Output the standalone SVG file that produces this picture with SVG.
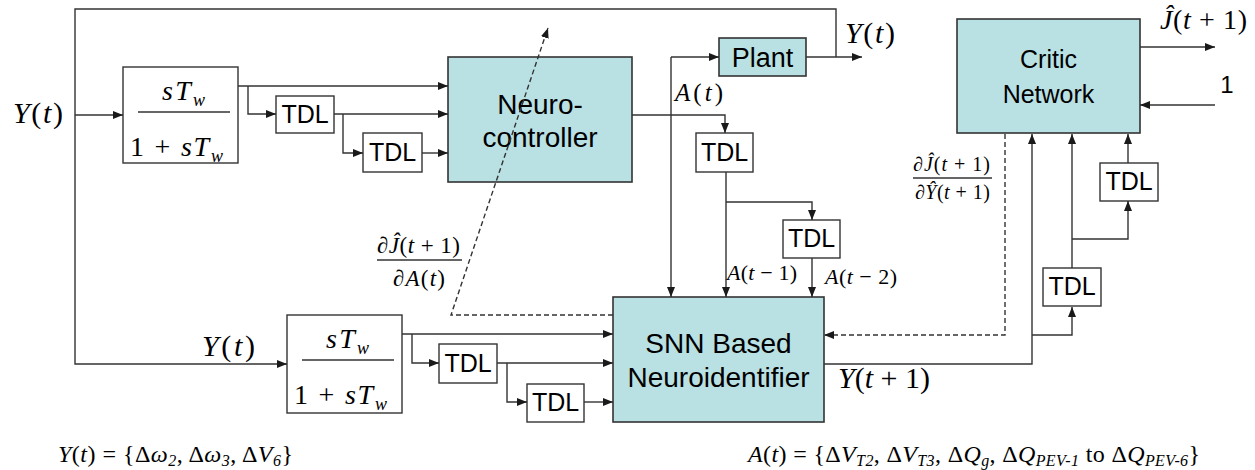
<svg xmlns="http://www.w3.org/2000/svg" width="1255" height="470" viewBox="0 0 1255 470">
<defs>
<marker id="ah" viewBox="0 0 10 8" refX="10" refY="4" markerWidth="10" markerHeight="8" orient="auto" markerUnits="userSpaceOnUse"><path d="M0,0L10,4L0,8z" fill="#1a1a1a"/></marker>
</defs>
<style>
.ln{fill:none;stroke:#333;stroke-width:1.4}
.ar{marker-end:url(#ah)}
.dash{stroke-dasharray:5 3}
.box{fill:#fff;stroke:#333;stroke-width:1.4}
.nn{fill:#b9e0e3;stroke:#333;stroke-width:1.6}
.sans{font-family:"Liberation Sans",Arial,sans-serif;fill:#000}
.tdl{font-size:25px;text-anchor:middle}
.big{font-size:28px;text-anchor:middle}
.m{font-family:"Liberation Serif","Times New Roman",serif;fill:#000}
.i{font-style:italic}
.mid{text-anchor:middle}
</style>
<rect width="1255" height="470" fill="#fff"/>

<g id="filter1">
<rect class="box" x="123" y="67" width="115" height="96"/>
<line class="ln" x1="138" y1="112" x2="230" y2="112"/>
<text class="m i" x="162" y="100" font-size="28" textLength="43">sT<tspan font-size="18" dy="6">w</tspan></text>
<text class="m" x="130" y="156" font-size="28" textLength="93">1 + <tspan class="i">sT</tspan><tspan class="i" font-size="18" dy="6">w</tspan></text>
</g>
<g id="tdl1"><rect class="box" x="276" y="96" width="58" height="37"/><text class="sans tdl" x="305" y="123">TDL</text></g>
<g id="tdl2"><rect class="box" x="363" y="133" width="59" height="39"/><text class="sans tdl" x="392.5" y="161">TDL</text></g>
<g id="neurocontroller">
<rect class="nn" x="448" y="57" width="184" height="125"/>
<text class="sans big" x="540" y="114">Neuro-</text>
<text class="sans big" x="540" y="147">controller</text>
</g>
<g id="plant"><rect class="nn" x="719" y="38" width="87" height="38"/><text class="sans" x="762.5" y="67" font-size="27" text-anchor="middle">Plant</text></g>
<g id="tdlA1"><rect class="box" x="696" y="133" width="57" height="39"/><text class="sans tdl" x="724.5" y="161">TDL</text></g>
<g id="tdlA2"><rect class="box" x="783" y="220" width="57" height="38"/><text class="sans tdl" x="811.5" y="247">TDL</text></g>
<g id="snn">
<rect class="nn" x="613" y="297" width="211" height="125"/>
<text class="sans big" x="718.5" y="353">SNN Based</text>
<text class="sans big" x="718.5" y="387">Neuroidentifier</text>
</g>
<g id="filter2">
<rect class="box" x="287" y="315" width="115" height="98"/>
<line class="ln" x1="302" y1="360" x2="394" y2="360"/>
<text class="m i" x="326" y="348" font-size="28" textLength="43">sT<tspan font-size="18" dy="6">w</tspan></text>
<text class="m" x="294" y="404" font-size="28" textLength="93">1 + <tspan class="i">sT</tspan><tspan class="i" font-size="18" dy="6">w</tspan></text>
</g>
<g id="tdl3"><rect class="box" x="439" y="344" width="58" height="39"/><text class="sans tdl" x="468" y="372">TDL</text></g>
<g id="tdl4"><rect class="box" x="527" y="384" width="57" height="38"/><text class="sans tdl" x="555.5" y="411">TDL</text></g>
<g id="critic">
<rect class="nn" x="957" y="19" width="183" height="114"/>
<text class="sans" x="1048.5" y="68" font-size="25" text-anchor="middle">Critic</text>
<text class="sans" x="1048.5" y="103" font-size="25" text-anchor="middle">Network</text>
</g>
<g id="tdlC1"><rect class="box" x="1043" y="268" width="58" height="38"/><text class="sans tdl" x="1072" y="295">TDL</text></g>
<g id="tdlC2"><rect class="box" x="1100" y="163" width="58" height="38"/><text class="sans tdl" x="1129" y="190">TDL</text></g>

<g id="connectors">
<path class="ln" d="M836,57 V9 H75 V115"/>
<path class="ln ar" d="M75,115 V364 H287"/>
<path class="ln ar" d="M75,115 H123"/>
<path class="ln ar" d="M806,57 H862"/>
<path class="ln ar" d="M238,86 H448"/>
<path class="ln ar" d="M248,86 V114 H276"/>
<path class="ln ar" d="M334,114 H448"/>
<path class="ln ar" d="M343,114 V153 H363"/>
<path class="ln ar" d="M422,153 H448"/>
<path class="ln ar" d="M632,115 H725 V133"/>
<path class="ln ar" d="M671,57 H719"/>
<path class="ln ar" d="M671,57 V297"/>
<path class="ln ar" d="M726,172 V297"/>
<path class="ln ar" d="M726,202 H812 V220"/>
<path class="ln ar" d="M812,258 V297"/>
<path class="ln ar" d="M402,334 H613"/>
<path class="ln ar" d="M412,334 V363 H439"/>
<path class="ln ar" d="M497,363 H613"/>
<path class="ln ar" d="M507,363 V402 H527"/>
<path class="ln ar" d="M584,402 H613"/>
<path class="ln ar dash" d="M1005,134 V335 H824"/>
<path class="ln ar dash" d="M613,315 H451 L548,28"/>
<path class="ln ar" d="M824,364 H1032 V134"/>
<path class="ln ar" d="M1032,335 H1072 V307"/>
<path class="ln ar" d="M1072,268 V134"/>
<path class="ln ar" d="M1072,239 H1128 V201"/>
<path class="ln ar" d="M1128,163 V134"/>
<path class="ln ar" d="M1140,47 H1215"/>
<path class="ln ar" d="M1215,105 H1140"/>
</g>

<g id="labels">
<text class="m" x="13" y="123" font-size="30" textLength="50"><tspan class="i">Y</tspan>(<tspan class="i">t</tspan>)</text>
<text class="m" x="675" y="101" font-size="25" textLength="48"><tspan class="i">A</tspan>(<tspan class="i">t</tspan>)</text>
<text class="m" x="845" y="43" font-size="30" textLength="50"><tspan class="i">Y</tspan>(<tspan class="i">t</tspan>)</text>
<text class="m" x="727" y="280" font-size="22" textLength="70"><tspan class="i">A</tspan>(<tspan class="i">t</tspan> − 1)</text>
<text class="m" x="825" y="284" font-size="22" textLength="72"><tspan class="i">A</tspan>(<tspan class="i">t</tspan> − 2)</text>
<text class="m" x="838" y="388" font-size="30" textLength="92"><tspan class="i">Y</tspan>(<tspan class="i">t</tspan> + 1)</text>
<text class="m" x="202" y="356" font-size="30" textLength="53"><tspan class="i">Y</tspan>(<tspan class="i">t</tspan>)</text>
<text class="m" x="1160" y="29" font-size="28" textLength="87"><tspan class="i">Ĵ</tspan>(<tspan class="i">t</tspan> + 1)</text>
<text class="sans" x="1227" y="93" font-size="24" text-anchor="middle">1</text>
<text class="m" x="377" y="253" font-size="23" textLength="83">∂<tspan class="i">Ĵ</tspan>(<tspan class="i">t</tspan> + 1)</text>
<line class="ln" x1="377" y1="260" x2="462" y2="260"/>
<text class="m" x="393" y="286" font-size="23" textLength="52">∂<tspan class="i">A</tspan>(<tspan class="i">t</tspan>)</text>
<text class="m" x="913" y="171" font-size="20" textLength="77">∂<tspan class="i">Ĵ</tspan>(<tspan class="i">t</tspan> + 1)</text>
<line class="ln" x1="913" y1="178" x2="992" y2="178"/>
<text class="m" x="915" y="199" font-size="20" textLength="75">∂<tspan class="i">Ŷ</tspan>(<tspan class="i">t</tspan> + 1)</text>
<text class="m" x="58" y="462" font-size="24" textLength="235"><tspan class="i">Y</tspan>(<tspan class="i">t</tspan>) = {Δ<tspan class="i">ω</tspan><tspan class="i" font-size="16" dy="4">2</tspan><tspan dy="-4">, Δ</tspan><tspan class="i">ω</tspan><tspan class="i" font-size="16" dy="4">3</tspan><tspan dy="-4">, Δ</tspan><tspan class="i">V</tspan><tspan class="i" font-size="16" dy="4">6</tspan><tspan dy="-4">}</tspan></text>
<text class="m" x="748" y="462" font-size="24" textLength="452"><tspan class="i">A</tspan>(<tspan class="i">t</tspan>) = {Δ<tspan class="i">V</tspan><tspan class="i" font-size="16" dy="4">T2</tspan><tspan dy="-4">, Δ</tspan><tspan class="i">V</tspan><tspan class="i" font-size="16" dy="4">T3</tspan><tspan dy="-4">, Δ</tspan><tspan class="i">Q</tspan><tspan class="i" font-size="16" dy="4">g</tspan><tspan dy="-4">, Δ</tspan><tspan class="i">Q</tspan><tspan class="i" font-size="16" dy="4">PEV-1</tspan><tspan dy="-4"> to Δ</tspan><tspan class="i">Q</tspan><tspan class="i" font-size="16" dy="4">PEV-6</tspan><tspan dy="-4">}</tspan></text>
</g>
</svg>
